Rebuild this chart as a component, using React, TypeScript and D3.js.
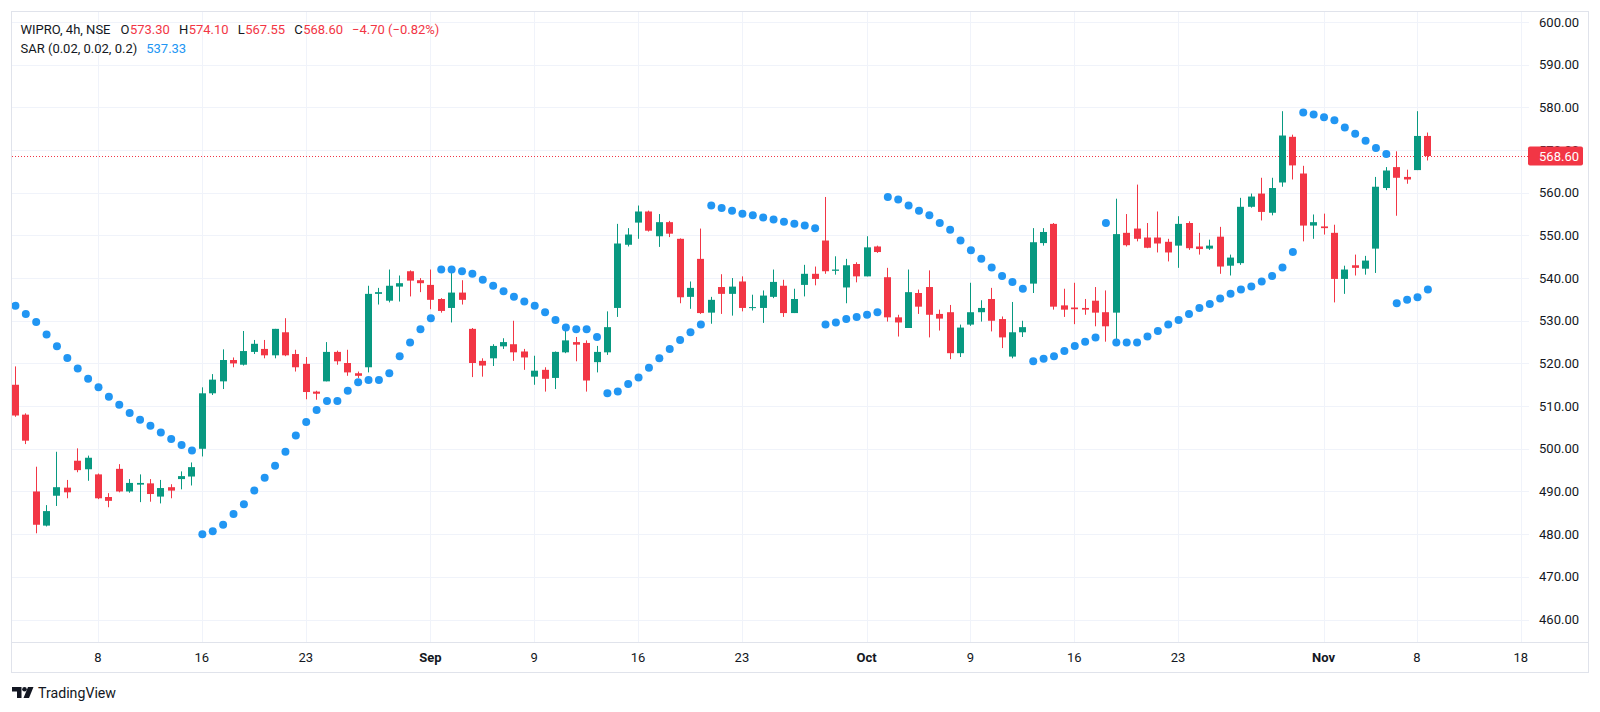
import React from 'react';
import { scaleLinear } from 'd3';

// WIPRO 4h bars, 2 Aug 2024 .. 8 Nov 2024
const open = [
  515.0, 508.0, 490.0, 482.0, 489.0, 490.9, 497.2, 495.2, 494.0, 488.7,
  495.3, 490.0, 491.6, 491.9, 488.8, 491.0, 492.9, 493.5, 500.0, 513.0,
  515.8, 520.8, 519.7, 522.7, 523.4, 521.9, 527.3, 522.2, 519.9, 513.4,
  515.8, 522.7, 520.1, 517.7, 519.1, 536.3, 534.7, 538.0, 541.6, 539.5,
  538.4, 535.1, 533.0, 536.6, 528.1, 520.6, 521.2, 524.0, 524.5, 522.8,
  516.9, 518.5, 516.6, 522.6, 525.0, 524.8, 520.3, 522.6, 533.0, 547.8,
  553.0, 555.6, 549.8, 553.1, 549.2, 535.6, 544.5, 531.9, 537.9, 536.3,
  539.2, 533.0, 533.0, 535.6, 538.2, 531.8, 538.4, 541.0, 548.8, 541.7,
  537.8, 543.3, 540.4, 547.4, 540.2, 530.8, 528.3, 536.5, 537.9, 531.6,
  532.0, 522.4, 529.1, 532.0, 535.1, 530.4, 521.6, 527.3, 538.7, 548.2,
  552.7, 533.6, 533.1, 533.0, 534.7, 532.0, 531.9, 550.6, 551.6, 549.5,
  549.5, 548.5, 547.6, 552.9, 547.4, 546.9, 549.7, 542.9, 543.5, 556.7,
  559.8, 555.3, 562.4, 573.1, 564.5, 552.3, 552.1, 550.6, 539.8, 543.0,
  542.2, 546.9, 561.1, 566.0, 563.7, 565.3, 573.3,
];
const high = [
  519.3, 508.3, 495.8, 486.8, 499.3, 492.7, 500.1, 498.4, 494.2, 489.6,
  496.4, 492.9, 494.0, 492.9, 492.7, 491.7, 494.7, 496.8, 514.4, 517.5,
  523.3, 521.4, 527.6, 525.5, 525.5, 528.1, 530.6, 523.2, 521.5, 513.6,
  525.0, 523.0, 523.2, 518.1, 538.2, 537.7, 542.0, 540.6, 541.8, 540.0,
  542.0, 535.3, 541.6, 539.5, 528.3, 521.2, 524.5, 525.9, 530.0, 523.4,
  521.8, 519.1, 522.8, 527.9, 526.2, 525.4, 524.1, 532.2, 552.7, 551.7,
  557.0, 555.8, 555.0, 553.4, 549.3, 539.2, 551.6, 535.6, 540.9, 540.0,
  540.4, 536.1, 537.1, 542.0, 539.6, 537.5, 543.1, 542.7, 559.0, 545.1,
  544.5, 543.7, 549.8, 547.6, 542.4, 531.4, 542.0, 537.3, 541.8, 532.6,
  533.7, 529.1, 538.9, 534.8, 537.7, 531.0, 534.4, 530.0, 551.7, 551.7,
  552.9, 537.5, 538.9, 535.1, 537.9, 537.1, 558.6, 555.0, 561.9, 552.9,
  555.6, 549.2, 554.5, 553.3, 550.6, 549.0, 552.0, 545.5, 558.8, 559.8,
  563.5, 563.5, 579.1, 573.6, 566.3, 554.9, 555.1, 552.5, 542.9, 545.5,
  545.2, 563.7, 566.0, 569.7, 565.4, 579.1, 574.1,
];
const low = [
  507.5, 501.1, 480.2, 481.8, 486.6, 488.4, 494.5, 492.5, 488.2, 486.3,
  489.8, 489.7, 487.5, 487.6, 487.2, 488.4, 490.5, 491.4, 498.2, 512.6,
  514.0, 519.1, 519.5, 522.2, 521.2, 521.2, 521.7, 518.1, 511.6, 511.5,
  515.8, 519.7, 517.1, 516.6, 517.9, 533.8, 534.3, 534.5, 535.7, 536.7,
  532.7, 531.9, 529.6, 533.8, 516.8, 516.9, 519.4, 523.4, 520.6, 518.5,
  515.0, 513.4, 514.0, 522.4, 520.5, 513.4, 517.9, 522.0, 530.9, 547.4,
  549.2, 550.9, 547.3, 549.6, 534.1, 532.8, 531.6, 529.3, 531.6, 531.2,
  532.2, 532.4, 529.5, 535.3, 530.9, 531.8, 535.7, 538.3, 541.0, 540.8,
  534.1, 539.0, 540.4, 545.9, 529.8, 526.3, 528.3, 531.6, 526.1, 527.7,
  521.0, 521.5, 528.8, 529.8, 527.5, 523.6, 521.2, 526.2, 536.5, 547.6,
  532.6, 530.9, 529.2, 531.4, 528.7, 525.1, 524.8, 547.4, 548.6, 547.0,
  546.0, 543.9, 542.4, 546.6, 545.5, 546.6, 541.0, 540.6, 543.1, 556.5,
  553.5, 554.7, 561.4, 563.1, 548.6, 549.2, 550.2, 534.3, 536.3, 540.6,
  540.8, 541.2, 560.6, 554.6, 562.1, 565.3, 567.55,
];
const close = [
  507.8, 501.9, 482.2, 485.4, 491.0, 489.8, 495.0, 497.9, 488.4, 487.8,
  490.0, 492.0, 492.0, 489.4, 490.8, 490.2, 493.6, 495.7, 513.0, 516.2,
  520.8, 520.0, 522.9, 524.6, 521.9, 528.1, 521.9, 519.1, 513.3, 512.9,
  522.7, 520.5, 517.9, 517.1, 536.3, 536.7, 538.2, 538.8, 539.4, 538.8,
  534.9, 532.3, 536.6, 534.9, 520.1, 519.5, 524.1, 525.0, 522.6, 521.4,
  518.3, 516.4, 522.7, 525.4, 524.4, 516.0, 522.7, 528.5, 548.1, 550.2,
  555.6, 551.1, 553.1, 550.4, 535.5, 537.7, 531.8, 534.9, 536.3, 538.0,
  533.0, 533.2, 535.9, 539.1, 531.8, 535.1, 541.0, 539.8, 541.6, 542.0,
  543.0, 540.4, 547.2, 546.1, 530.8, 529.6, 536.7, 533.3, 531.4, 530.5,
  522.4, 528.4, 532.0, 533.0, 530.0, 526.1, 527.3, 528.5, 548.4, 550.8,
  533.3, 532.6, 532.7, 532.6, 531.9, 528.7, 550.3, 547.7, 549.2, 547.1,
  548.1, 546.0, 552.7, 547.0, 546.8, 547.6, 542.7, 544.8, 556.7, 559.1,
  555.5, 561.1, 573.4, 566.4, 552.3, 553.1, 551.7, 539.8, 542.0, 542.4,
  544.1, 561.4, 565.2, 563.5, 563.1, 573.3, 568.6,
];
// Parabolic SAR (0.02, 0.02, 0.2), one dot per bar
const sar = [
  533.5, 531.6, 529.7, 526.8, 524.0, 521.3, 518.8, 516.4, 514.4, 512.2,
  510.3, 508.4, 506.8, 505.4, 503.8, 502.3, 500.9, 499.6, 480.0, 480.7,
  482.2, 484.7, 487.0, 490.2, 493.2, 496.0, 499.3, 503.1, 506.3, 509.1,
  511.2, 511.2, 513.6, 515.6, 516.1, 516.1, 517.7, 521.7, 524.9, 528.0,
  530.6, 542.0, 542.0, 541.6, 541.0, 539.6, 538.2, 536.9, 535.6, 534.5,
  533.5, 532.0, 530.2, 528.4, 528.0, 528.0, 526.2, 513.0, 513.4, 515.2,
  516.7, 519.0, 521.2, 523.4, 525.5, 527.3, 529.1, 557.0, 556.4, 555.8,
  555.1, 554.7, 554.2, 553.7, 553.2, 552.7, 552.3, 551.7, 529.1, 529.6,
  530.4, 530.9, 531.4, 532.0, 559.0, 558.4, 557.0, 555.8, 554.7, 552.9,
  551.3, 548.8, 546.5, 544.5, 542.5, 540.5, 539.1, 537.5, 520.5, 521.1,
  521.7, 522.9, 524.1, 525.1, 526.1, 552.9, 524.9, 524.9, 524.9, 526.3,
  527.6, 529.1, 530.2, 531.6, 533.0, 533.9, 535.2, 536.3, 537.3, 538.0,
  539.2, 540.5, 542.5, 546.1, 578.8, 578.3, 577.7, 577.0, 575.3, 573.8,
  572.2, 570.5, 569.1, 534.1, 534.9, 535.5, 537.33,
];

const timeLabels = ['8', '16', '23', 'Sep', '9', '16', '23', 'Oct', '9', '16', '23', 'Nov', '8', '18'];
const timeLabelBars = [8, 18, 28, 40, 50, 60, 70, 82, 92, 102, 112, 126, 135, 145];
const monthLabels = ['Sep', 'Oct', 'Nov'];
const priceTicks = [460, 470, 480, 490, 500, 510, 520, 530, 540, 550, 560, 570, 580, 590, 600];

const dimensions = {
  width: 1600,
  height: 712,
  left: 12,
  top: 12,
  plotRight: 1529,
  plotBottom: 642,
  frameRight: 1588,
  frameBottom: 672,
};

const UP = '#089981';
const DOWN = '#f23645';
const SAR_COLOR = '#2196f3';
const TEXT = '#131722';
const GRID = '#f0f3fa';
const BORDER = '#e0e3eb';
const FONT = 'Roboto, "Noto Sans", sans-serif';

const x = scaleLinear().domain([8, 135]).range([98, 1417]);
const y = scaleLinear().domain([460, 600]).range([619.5, 22]);

const bodyWidth = 7;

const App: React.FC = () => {
  const last = close.length - 1;
  const change = close[last] - close[last - 1];
  const changePct = (change / close[last - 1]) * 100;
  const fmt = (v: number) => v.toFixed(2).replace('-', '\u2212');
  const lastY = y(close[last]);

  // label / value pairs of the OHLC legend, laid out one after another
  const legend1 = [
    { t: 'WIPRO, 4h, NSE', c: TEXT, dx: 0 },
    { t: 'O', c: TEXT, dx: 10 },
    { t: fmt(open[last]), c: DOWN, dx: 0.5 },
    { t: 'H', c: TEXT, dx: 9 },
    { t: fmt(high[last]), c: DOWN, dx: 0.5 },
    { t: 'L', c: TEXT, dx: 9 },
    { t: fmt(low[last]), c: DOWN, dx: 0.5 },
    { t: 'C', c: TEXT, dx: 9 },
    { t: fmt(close[last]), c: DOWN, dx: 0.5 },
    { t: `${fmt(change)} (${fmt(changePct)}%)`, c: DOWN, dx: 9 },
  ];

  return (
    <svg
      width={dimensions.width}
      height={dimensions.height}
      style={{ position: 'absolute', left: 0, top: 0, background: '#fff' }}
      fontFamily={FONT}
    >
      <defs>
        <clipPath id="plot">
          <rect
            x={dimensions.left}
            y={dimensions.top}
            width={dimensions.plotRight - dimensions.left}
            height={dimensions.plotBottom - dimensions.top}
          />
        </clipPath>
      </defs>

      {/* grid */}
      <g stroke={GRID} strokeWidth={1}>
        {priceTicks.map(p => (
          <line key={'h' + p} x1={dimensions.left} x2={dimensions.plotRight} y1={Math.round(y(p)) + 0.5} y2={Math.round(y(p)) + 0.5} />
        ))}
        {timeLabelBars.map((b, i) => (
          <line key={'v' + i} x1={Math.round(x(b)) + 0.5} x2={Math.round(x(b)) + 0.5} y1={dimensions.top} y2={dimensions.plotBottom} />
        ))}
      </g>

      {/* frame + time axis border */}
      <rect
        x={dimensions.left - 0.5}
        y={dimensions.top - 0.5}
        width={dimensions.frameRight - dimensions.left + 1}
        height={dimensions.frameBottom - dimensions.top + 1}
        fill="none"
        stroke={BORDER}
      />
      <line x1={dimensions.left} x2={dimensions.frameRight} y1={dimensions.plotBottom + 0.5} y2={dimensions.plotBottom + 0.5} stroke={BORDER} />

      <g clipPath="url(#plot)">
        {/* last price line */}
        <line
          x1={dimensions.left}
          x2={dimensions.plotRight}
          y1={Math.round(lastY) + 0.5}
          y2={Math.round(lastY) + 0.5}
          stroke={DOWN}
          strokeDasharray="1 2"
        />

        {/* candles */}
        {close.map((c, i) => {
          const o = open[i];
          const color = c >= o ? UP : DOWN;
          const cx = Math.round(x(i));
          const top = y(Math.max(o, c));
          const bot = y(Math.min(o, c));
          return (
            <g key={i}>
              <line x1={cx + 0.5} x2={cx + 0.5} y1={y(high[i])} y2={y(low[i])} stroke={color} strokeWidth={1} />
              <rect x={cx - 3} y={top} width={bodyWidth} height={Math.max(1, bot - top)} fill={color} />
            </g>
          );
        })}

        {/* SAR dots */}
        {sar.map((s, i) => (
          <circle key={'s' + i} cx={x(i) + 0.5} cy={y(s)} r={4} fill={SAR_COLOR} />
        ))}
      </g>

      {/* legend */}
      <g fontSize={13}>
        <text x={20.5} y={34}>
          {legend1.map((d, i) => (
            <tspan key={'l' + i} dx={d.dx} fill={d.c}>{d.t}</tspan>
          ))}
        </text>
        <text x={20.5} y={53}>
          <tspan fill={TEXT}>SAR (0.02, 0.02, 0.2)</tspan>
          <tspan dx={9} fill={SAR_COLOR}>{sar[last].toFixed(2)}</tspan>
        </text>
      </g>

      {/* price axis */}
      <g fontSize={13} fill={TEXT} textAnchor="end">
        {priceTicks.map(p => (
          <text key={'p' + p} x={1579} y={y(p) + 4.5}>{p.toFixed(2)}</text>
        ))}
      </g>
      <rect x={1528} y={lastY - 9.5} width={55} height={19} rx={2} fill={DOWN} />
      <text x={1579} y={lastY + 4.5} fontSize={13} fill="#fff" textAnchor="end">{close[last].toFixed(2)}</text>

      {/* time axis */}
      <g fontSize={13} fill={TEXT} textAnchor="middle">
        {timeLabels.map((t, i) => (
          <text
            key={'t' + i}
            x={x(timeLabelBars[i])}
            y={661.5}
            fontWeight={monthLabels.includes(t) ? 700 : 400}
          >
            {t}
          </text>
        ))}
      </g>

      {/* TradingView mark */}
      <g fill={TEXT}>
        <path d="M12 687 H21.5 V698 H17 V691.5 H12 Z" />
        <circle cx={24.5} cy={689.3} r={2.3} />
        <path d="M28 687 H33.5 L29 698 H23.5 Z" />
        <text x={38} y={698} fontSize={15.5} textLength={78} lengthAdjust="spacingAndGlyphs">TradingView</text>
      </g>
    </svg>
  );
};

export default App;
